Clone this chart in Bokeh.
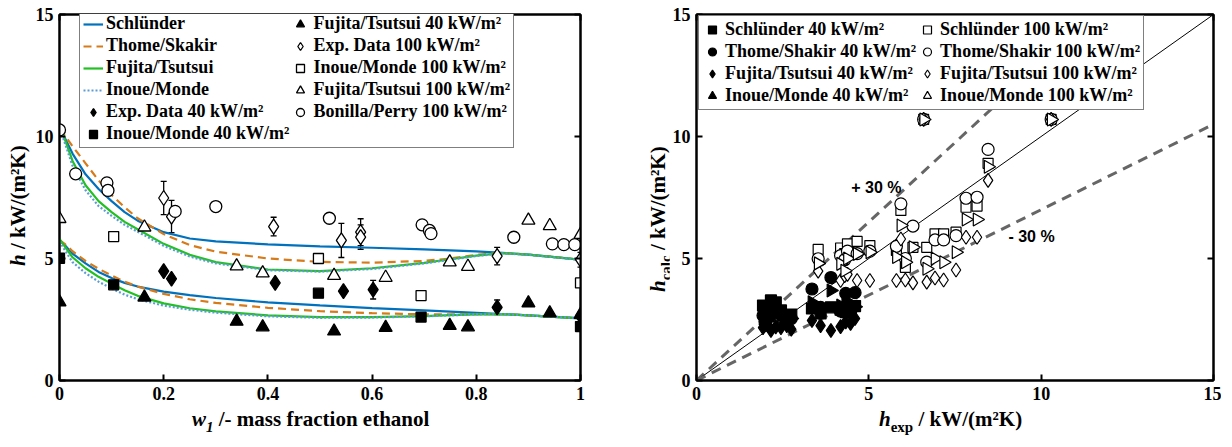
import numpy as np
from bokeh.plotting import figure
from bokeh.models import (ColumnDataSource, Legend, LegendItem, LinearAxis, Range1d,
                          Label, Whisker, TeeHead, FixedTicker, Div)
from bokeh.layouts import row, column
from bokeh.embed import file_html
from bokeh.resources import INLINE

# ---------------- data: left panel (h vs. mass fraction) ----------------
w_model = [0, 0.01, 0.025, 0.05, 0.075, 0.1, 0.125, 0.15, 0.2, 0.25, 0.3, 0.4, 0.5,
           0.6, 0.7, 0.75, 0.8, 0.85, 0.9, 0.95, 1.0]
schl_100 = [10.3, 9.95, 9.3, 8.45, 7.85, 7.35, 6.9, 6.55, 6.08, 5.82, 5.7, 5.58, 5.5,
            5.44, 5.37, 5.33, 5.29, 5.23, 5.16, 5.06, 4.95]
thome_100 = [10.3, 10.05, 9.6, 8.9, 8.2, 7.6, 7.1, 6.65, 6.0, 5.55, 5.28, 5.0, 4.86,
             4.83, 4.9, 5.0, 5.15, 5.23, 5.16, 5.06, 4.95]
fuj_100 = [10.5, 9.9, 9.0, 8.0, 7.35, 6.9, 6.5, 6.2, 5.6, 5.15, 4.85, 4.55, 4.48,
           4.6, 4.82, 4.97, 5.12, 5.22, 5.16, 5.06, 4.95]
ino_100 = [10.4, 9.75, 8.8, 7.8, 7.15, 6.75, 6.38, 6.1, 5.52, 5.08, 4.8, 4.52, 4.46,
           4.57, 4.8, 4.95, 5.1, 5.21, 5.15, 5.05, 4.94]
schl_40 = [5.75, 5.55, 5.2, 4.8, 4.45, 4.2, 4.0, 3.85, 3.64, 3.5, 3.38, 3.2, 3.08,
           2.97, 2.87, 2.82, 2.77, 2.72, 2.67, 2.61, 2.55]
thome_40 = [5.75, 5.6, 5.3, 4.9, 4.58, 4.3, 4.05, 3.85, 3.55, 3.33, 3.18, 2.98, 2.84,
            2.76, 2.71, 2.71, 2.72, 2.72, 2.67, 2.61, 2.55]
fuj_40 = [5.8, 5.5, 5.05, 4.6, 4.25, 3.97, 3.7, 3.47, 3.16, 2.96, 2.83, 2.67, 2.6,
          2.6, 2.64, 2.68, 2.71, 2.72, 2.67, 2.61, 2.55]
ino_40 = [5.7, 5.35, 4.85, 4.4, 4.05, 3.77, 3.52, 3.33, 3.07, 2.9, 2.78, 2.63, 2.57,
          2.58, 2.63, 2.67, 2.71, 2.72, 2.67, 2.61, 2.55]

exp40_w = [0.2, 0.215, 0.414, 0.545, 0.602, 0.84, 1.0]
exp40_h = [4.48, 4.17, 4.0, 3.66, 3.72, 3.0, 2.64]
exp40_err = [0.1, 0.1, 0.1, 0.1, 0.38, 0.3, 0.1]
exp100_w = [0.2, 0.215, 0.411, 0.541, 0.578, 0.578, 0.84, 1.0]
exp100_h = [7.48, 6.72, 6.31, 5.74, 6.08, 5.88, 5.1, 4.95]
exp100_err = [0.68, 0.66, 0.38, 0.7, 0.55, 0.5, 0.36, 0.3]

im40_w = [0.0, 0.104, 0.497, 0.694, 1.0]
im40_h = [5.01, 3.92, 3.58, 2.6, 2.21]
im100_w = [0.104, 0.497, 0.694, 1.0]
im100_h = [5.9, 5.0, 3.48, 4.0]
ft40_w = [0.0, 0.163, 0.34, 0.39, 0.527, 0.626, 0.749, 0.784, 0.9, 0.941, 1.0]
ft40_h = [3.21, 3.41, 2.42, 2.19, 2.02, 2.17, 2.25, 2.19, 3.17, 2.76, 2.7]
ft100_w = [0.0, 0.163, 0.34, 0.39, 0.527, 0.626, 0.749, 0.784, 0.9, 0.941, 1.0]
ft100_h = [6.63, 6.28, 4.69, 4.4, 4.3, 4.22, 4.85, 4.67, 6.56, 6.34, 5.98]
bp100_w = [0.0, 0.031, 0.091, 0.093, 0.222, 0.3, 0.518, 0.696, 0.71, 0.713, 0.872,
           0.946, 0.968, 0.989]
bp100_h = [10.27, 8.47, 8.1, 7.79, 6.93, 7.13, 6.65, 6.38, 6.15, 6.02, 5.87, 5.6,
           5.57, 5.57]

left_xticks = [0, 0.2, 0.4, 0.6, 0.8, 1.0]
left_xlabels = ["0", "0.2", "0.4", "0.6", "0.8", "1"]
left_yticks = [0, 5, 10, 15]

# ---------------- data: right panel (parity plot) ----------------
h_exp_40 = [1.93, 2.05, 2.16, 2.30, 2.45, 2.62, 2.75, 3.35, 3.60, 3.90, 4.18, 4.33, 4.47, 4.60]
calc_schl_40 = [3.07, 2.79, 3.28, 3.20, 2.87, 2.38, 2.70, 2.95, 2.75, 3.00, 2.90, 2.80, 2.95, 3.05]
calc_thome_40 = [2.66, 2.60, 2.87, 2.90, 2.70, 2.54, 2.54, 3.75, 3.00, 4.22, 2.85, 3.57, 2.80, 3.60]
calc_fuj_40 = [2.17, 2.30, 2.05, 2.20, 2.17, 2.25, 2.10, 2.46, 2.25, 2.05, 2.21, 2.40, 2.34, 2.54]
calc_ino_40 = [2.54, 2.45, 2.87, 2.70, 2.66, 2.50, 2.54, 3.21, 2.87, 3.69, 3.07, 3.28, 2.90, 3.02]

h_exp_100 = [3.53, 4.18, 4.30, 4.38, 4.66, 5.03, 5.80, 5.93, 6.06, 6.28, 6.68, 6.92,
             7.17, 7.53, 7.82, 8.14, 8.46, 6.59, 10.29]
calc_schl_100 = [5.37, 5.43, 5.20, 5.60, 5.70, 5.53, 5.33, 6.97, 4.64, 5.46, 5.46, 6.01,
                 6.01, 6.08, 7.10, 7.15, 8.90, 10.7, 10.7]
calc_thome_100 = [4.99, 5.12, 4.95, 5.30, 5.20, 5.30, 5.50, 7.24, 5.00, 6.33, 4.85, 5.76,
                  5.76, 5.94, 7.47, 7.51, 9.47, 10.7, 10.7]
calc_ino_100 = [4.80, 4.78, 4.50, 5.00, 5.19, 5.26, 5.06, 6.35, 4.85, 5.46, 4.58, 5.00,
                4.85, 5.26, 6.60, 6.60, 8.76, 10.7, 10.7]
calc_fuj_100 = [4.48, 4.10, 4.30, 4.35, 4.10, 4.10, 4.10, 5.80, 4.12, 4.00, 4.03, 4.20,
                4.12, 4.53, 5.87, 5.87, 8.20, 10.7, 10.7]

dev_factors = [1.3, 1.0, 0.7]
right_ticks = [0, 5, 10, 15]

# ---------------- styling ----------------
SERIF = "Liberation Serif"
SANS = "Liberation Sans"
C_BLUE = "#0072BD"
C_ORANGE = "#D77B1A"
C_GREEN = "#22C022"
C_DOT = "#5C9BD6"

FIG_H = 408
XLAB_H = 37


def style_frame(p, xticks, yticks, xlabels=None):
    p.outline_line_color = "black"
    p.outline_line_width = 2
    p.xgrid.visible = False
    p.ygrid.visible = False
    for ax in p.xaxis + p.yaxis:
        ax.axis_line_width = 2
        ax.axis_line_color = "black"
        ax.major_tick_in = 6
        ax.major_tick_out = 0
        ax.major_tick_line_width = 2
        ax.minor_tick_line_color = None
        ax.major_label_text_font = SERIF
        ax.major_label_text_font_style = "bold"
        ax.major_label_text_font_size = "18px"
        ax.major_label_text_color = "black"
        ax.axis_label = None
    p.xaxis.ticker = FixedTicker(ticks=xticks)
    p.yaxis.ticker = FixedTicker(ticks=yticks)
    p.xaxis.major_label_standoff = 6
    p.yaxis.major_label_standoff = 6
    if xlabels is not None:
        p.xaxis.major_label_overrides = {t: l for t, l in zip(xticks, xlabels)}
    for loc, ticks in (("above", xticks), ("right", yticks)):
        ax = LinearAxis(ticker=FixedTicker(ticks=ticks), major_label_text_font_size="1px",
                        major_label_text_color=None, major_label_standoff=0,
                        major_tick_in=6, major_tick_out=0, major_tick_line_width=2,
                        minor_tick_line_color=None, axis_line_width=2)
        p.add_layout(ax, loc)


FONT_CSS = "font-family:'Liberation Serif',serif;font-weight:bold;color:black;white-space:nowrap;"


def hlabel(width, left, top, html):
    txt = (f'<div style="position:relative;width:{width}px;height:{XLAB_H}px;">'
           f'<span style="position:absolute;left:{left}px;top:{top}px;{FONT_CSS}'
           f'font-size:21px;line-height:22px;">{html}</span></div>')
    return Div(text=txt, width=width, height=XLAB_H, margin=0,
               styles={"overflow": "visible"})


def vlabel(width, left, bottom, html):
    h = FIG_H + XLAB_H
    txt = (f'<div style="position:relative;width:{width}px;height:{h}px;">'
           f'<span style="position:absolute;left:{left}px;top:{bottom}px;{FONT_CSS}'
           f'font-size:21px;line-height:24px;transform:rotate(-90deg);'
           f'transform-origin:0 0;">{html}</span></div>')
    return Div(text=txt, width=width, height=h, margin=0, styles={"overflow": "visible"})


SUB = '<span style="font-size:15px;position:relative;top:6px;">{}</span>'

# ================= left figure =================
p1 = figure(width=595, height=FIG_H, x_range=Range1d(0, 1), y_range=Range1d(0, 15),
            output_backend="svg", toolbar_location=None,
            min_border_left=29, min_border_right=45, min_border_top=14, min_border_bottom=28)
style_frame(p1, left_xticks, left_yticks, left_xlabels)

line_specs = [
    (schl_100, schl_40, C_BLUE, "solid"),
    (thome_100, thome_40, C_ORANGE, "8 5"),
    (fuj_100, fuj_40, C_GREEN, "solid"),
    (ino_100, ino_40, C_DOT, "2 2"),
]
line_r = []
for up, lo, col, dash in line_specs:
    r = p1.line(w_model, up, line_color=col, line_width=2.2, line_dash=dash)
    p1.line(w_model, lo, line_color=col, line_width=2.2, line_dash=dash)
    line_r.append(r)

src100 = ColumnDataSource(dict(x=exp100_w, lower=[h - e for h, e in zip(exp100_h, exp100_err)],
                               upper=[h + e for h, e in zip(exp100_h, exp100_err)]))
src40 = ColumnDataSource(dict(x=exp40_w, lower=[h - e for h, e in zip(exp40_h, exp40_err)],
                              upper=[h + e for h, e in zip(exp40_h, exp40_err)]))
for s in (src100, src40):
    p1.add_layout(Whisker(source=s, base="x", upper="upper", lower="lower",
                          line_color="black", line_width=1.3,
                          upper_head=TeeHead(size=6, line_width=1.3),
                          lower_head=TeeHead(size=6, line_width=1.3)))

mk = dict(line_color="black", line_width=1.3)
r_exp40 = p1.scatter(exp40_w, exp40_h, marker="diamond", size=15, fill_color="black", **mk)
r_im40 = p1.scatter(im40_w, im40_h, marker="square", size=10, fill_color="black", **mk)
r_ft40 = p1.scatter(ft40_w, ft40_h, marker="triangle", size=13, fill_color="black", **mk)
r_exp100 = p1.scatter(exp100_w, exp100_h, marker="diamond", size=15, fill_color="white", **mk)
r_im100 = p1.scatter(im100_w, im100_h, marker="square", size=10, fill_color="white", **mk)
r_ft100 = p1.scatter(ft100_w, ft100_h, marker="triangle", size=13, fill_color="white", **mk)
r_bp100 = p1.scatter(bp100_w, bp100_h, marker="circle", size=12, fill_color="white", **mk)

items1 = [
    LegendItem(label="Schlünder", renderers=[line_r[0]]),
    LegendItem(label="Thome/Skakir", renderers=[line_r[1]]),
    LegendItem(label="Fujita/Tsutsui", renderers=[line_r[2]]),
    LegendItem(label="Inoue/Monde", renderers=[line_r[3]]),
    LegendItem(label="Exp. Data 40 kW/m²", renderers=[r_exp40]),
    LegendItem(label="Inoue/Monde 40 kW/m²", renderers=[r_im40]),
    LegendItem(label="Fujita/Tsutsui 40 kW/m²", renderers=[r_ft40]),
    LegendItem(label="Exp. Data 100 kW/m²", renderers=[r_exp100]),
    LegendItem(label="Inoue/Monde 100 kW/m²", renderers=[r_im100]),
    LegendItem(label="Fujita/Tsutsui 100 kW/m²", renderers=[r_ft100]),
    LegendItem(label="Bonilla/Perry 100 kW/m²", renderers=[r_bp100]),
]
leg1 = Legend(items=items1, location=(20, 232), nrows=6,
              label_text_font=SERIF, label_text_font_style="bold", label_text_font_size="18px",
              label_text_color="black", label_height=20, glyph_height=20, glyph_width=20,
              label_standoff=3, spacing=1, padding=3, margin=0,
              border_line_color="black", border_line_width=1.5, background_fill_alpha=1)
p1.add_layout(leg1)

# ================= right figure =================
p2 = figure(width=552, height=FIG_H, x_range=Range1d(0, 15), y_range=Range1d(0, 15),
            output_backend="svg", toolbar_location=None,
            min_border_left=24, min_border_right=8, min_border_top=14, min_border_bottom=28)
style_frame(p2, right_ticks, right_ticks)

x_ends = [0, 15]
for f in dev_factors:
    if f == 1.0:
        p2.line(x_ends, [f * x for x in x_ends], line_color="black", line_width=1)
    else:
        p2.line(x_ends, [f * x for x in x_ends], line_color="#666666", line_width=3,
                line_dash="10 7")

for x, y, t in ((5.22, 7.91, "+ 30 %"), (9.72, 5.9, "- 30 %")):
    p2.add_layout(Label(x=x, y=y, text=t, text_font=SANS, text_font_size="16px",
                        text_font_style="bold", text_align="center", text_baseline="middle",
                        text_color="black"))

rmk = dict(line_color="black", line_width=1.2)
tri_angle = -np.pi / 2
r40 = [
    p2.scatter(h_exp_40, calc_schl_40, marker="square", size=11, fill_color="black", **rmk),
    p2.scatter(h_exp_40, calc_thome_40, marker="circle", size=12, fill_color="black", **rmk),
    p2.scatter(h_exp_40, calc_fuj_40, marker="diamond", size=14, fill_color="black", **rmk),
    p2.scatter(h_exp_40, calc_ino_40, marker="triangle", size=13, angle=tri_angle,
               fill_color="black", **rmk),
]
r100 = [
    p2.scatter(h_exp_100, calc_schl_100, marker="square", size=10, fill_color="white", **rmk),
    p2.scatter(h_exp_100, calc_thome_100, marker="circle", size=12, fill_color="white", **rmk),
    p2.scatter(h_exp_100, calc_fuj_100, marker="diamond", size=14, fill_color="white", **rmk),
    p2.scatter(h_exp_100, calc_ino_100, marker="triangle", size=13, angle=tri_angle,
               fill_color="white", **rmk),
]
names = ["Schlünder", "Thome/Shakir", "Fujita/Tsutsui", "Inoue/Monde"]
items2 = ([LegendItem(label=f"{n} 40 kW/m²", renderers=[r]) for n, r in zip(names, r40)] +
          [LegendItem(label=f"{n} 100 kW/m²", renderers=[r]) for n, r in zip(names, r100)])
leg2 = Legend(items=items2, location=(2, 270), nrows=4,
              label_text_font=SERIF, label_text_font_style="bold", label_text_font_size="18px",
              label_text_color="black", label_height=21, glyph_height=21, glyph_width=20,
              label_standoff=3, spacing=1, padding=3, margin=0,
              border_line_color="black", border_line_width=1.5, background_fill_alpha=1)
p2.add_layout(leg2)

# ================= axis titles (HTML text, mixed styles) =================
ylab1 = vlabel(30, 6, 266, '<i>h</i> / kW/(m²K)')
xlab1 = hlabel(595, 162, 0, '<i>w</i><i>' + SUB.format('1') + '</i> /- mass fraction ethanol')
ylab2 = vlabel(44, 21, 292, '<i>h</i>' + SUB.format('calc') + ' / kW/(m²K)')
xlab2 = hlabel(552, 210, 0, '<i>h</i>' + SUB.format('exp') + ' / kW/(m²K)')

layout = row(ylab1, column(p1, xlab1), ylab2, column(p2, xlab2))
open("out.html", "w").write(file_html(layout, INLINE))
